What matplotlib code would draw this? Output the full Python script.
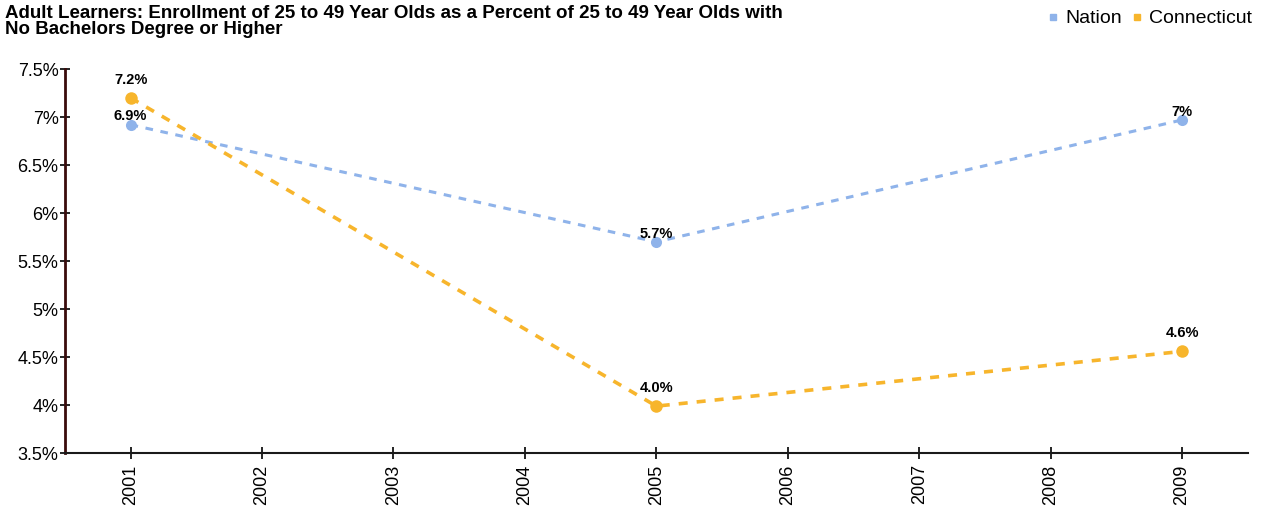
import matplotlib.pyplot as plt
from matplotlib.ticker import FuncFormatter, MultipleLocator
from matplotlib.lines import Line2D

# data
years = [2001, 2005, 2009]
nation = [6.92, 5.7, 6.97]
connecticut = [7.2, 3.99, 4.56]
nation_labels = ['6.9%', '5.7%', '7%']
connecticut_labels = ['7.2%', '4.0%', '4.6%']
tick_years = list(range(2001, 2010))

blue = '#8fb3ea'
orange = '#f7b52c'

plt.rcParams['font.family'] = ['Liberation Sans', 'DejaVu Sans']

fig = plt.figure(figsize=(12.72, 5.15), dpi=100)
ax = fig.add_axes([0.051, 0.120, 0.930, 0.746])

ax.plot(years, nation, color=blue, linestyle=(0, (2.5, 2.5)), linewidth=2.2,
        marker='o', markersize=8, markeredgewidth=0, zorder=3)
ax.plot(years, connecticut, color=orange, linestyle=(0, (2.5, 2.5)), linewidth=2.6,
        marker='o', markersize=9, markeredgewidth=0, zorder=3)

for x, y, lab in zip(years, nation, nation_labels):
    ax.annotate(lab, (x, y), xytext=(0, 1), textcoords='offset points',
                ha='center', va='bottom', fontsize=10.5, fontweight='bold', zorder=4)
for x, y, lab in zip(years, connecticut, connecticut_labels):
    ax.annotate(lab, (x, y), xytext=(0, 8), textcoords='offset points',
                ha='center', va='bottom', fontsize=10.5, fontweight='bold', zorder=4)

ax.set_xlim(2000.5, 2009.5)
ax.set_ylim(3.5, 7.5)
ax.set_xticks(tick_years)
ax.set_xticklabels([str(y) for y in tick_years], rotation=90, fontsize=13)
ax.yaxis.set_major_locator(MultipleLocator(0.5))
ax.yaxis.set_major_formatter(FuncFormatter(lambda v, p: f'{v:g}%'))
ax.tick_params(axis='y', labelsize=13, direction='inout', length=7, width=1.2, pad=1)
ax.tick_params(axis='x', direction='inout', length=8, width=1.2, pad=4)

for s in ['top', 'right']:
    ax.spines[s].set_visible(False)
ax.spines['left'].set_color('#3a0c0c')
ax.spines['left'].set_linewidth(2)
ax.spines['bottom'].set_color('#1a1a1a')
ax.spines['bottom'].set_linewidth(1.5)

fig.text(0.004, 0.99, 'Adult Learners: Enrollment of 25 to 49 Year Olds as a Percent of 25 to 49 Year Olds with\nNo Bachelors Degree or Higher',
         ha='left', va='top', fontsize=13.5, fontweight='bold', linespacing=0.9)

handles = [Line2D([], [], color=blue, marker='s', linestyle='none', markersize=5),
           Line2D([], [], color=orange, marker='s', linestyle='none', markersize=5)]
fig.legend(handles, ['Nation', 'Connecticut'], loc='upper right', bbox_to_anchor=(0.998, 1.015),
           ncol=2, frameon=False, fontsize=14, handletextpad=0.2, columnspacing=0.4,
           handlelength=0.8)

fig.savefig('out.png', dpi=100)
